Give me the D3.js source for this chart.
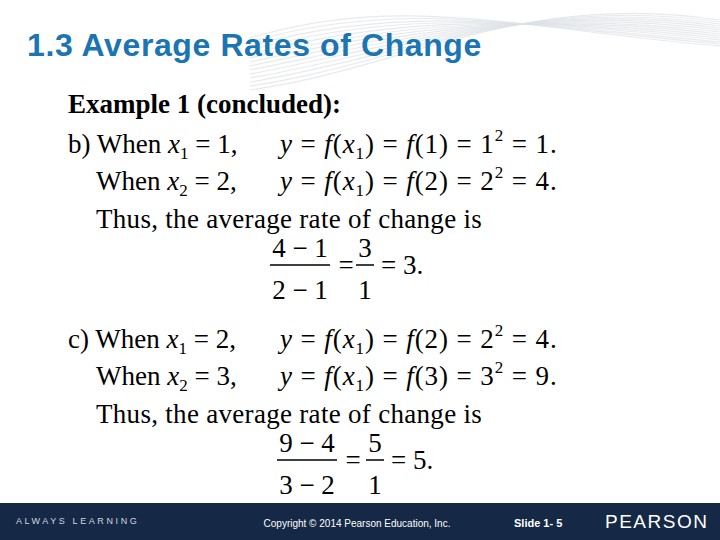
<!DOCTYPE html>
<html lang="en">
<head>
<meta charset="UTF-8">
<title>Slide</title>
<style>
  body { margin: 0; background: white; }
  svg { display: block; }
</style>
</head>
<body>
<svg id="SVG"></svg>
<script src="https://d3js.org/d3.v7.min.js"></script>
<script>
// slide content
var title = "1.3 Average Rates of Change";
var heading = "Example 1 (concluded):";
var parts = ["b)", "c)"];
var x1Values = [1, 2];
var x2Values = [2, 3];
var y1Values = [1, 4];
var y2Values = [4, 9];
var slopes = [3, 5];
var footerLeft = "ALWAYS LEARNING";
var footerCopy = "Copyright © 2014 Pearson Education, Inc.";
var footerSlide = "Slide 1- 5";
var footerBrand = "PEARSON";

var width = 720, height = 540;
var svg = d3.select("#SVG").attr("width", width).attr("height", height);

// background waves at top
var waves = svg.append("g");
for (var i = 0; i < 14; i++) {
    waves.append("path")
        .attr("d", `M 250 ${90 - i * 4} C 400 ${70 - i * 6}, 520 ${-10 + i * 3}, 720 ${20 + i * 2}`)
        .attr("fill", "none")
        .attr("stroke", "#dde1e6")
        .attr("stroke-width", 1.2)
        .attr("opacity", 0.7);
}

svg.append("text").text(title)
    .attr("x", 27).attr("y", 56)
    .attr("font-family", "Liberation Sans, Arial, sans-serif")
    .attr("font-size", 32).attr("font-weight", "bold")
    .attr("letter-spacing", 0.6).attr("fill", "#1b75b3");

var serif = "Liberation Serif, Times New Roman, serif";

svg.append("text").text(heading)
    .attr("x", 68).attr("y", 113)
    .attr("font-family", serif).attr("font-size", 27).attr("font-weight", "bold");

function textLine(x, y, pieces, size, spacing) {
    var t = svg.append("text").attr("x", x).attr("y", y)
        .attr("font-family", serif).attr("font-size", size || 27)
        .attr("letter-spacing", spacing || 0);
    pieces.forEach(function (p) {
        var s = t.append("tspan").text(p.t);
        if (p.i) s.attr("font-style", "italic");
        if (p.sub) s.attr("font-size", 17).attr("dy", 6);
        if (p.sup) s.attr("font-size", 17).attr("dy", -12);
        if (p.back) s.attr("dy", p.back);
    });
}

function equation(x, y, xv, yv) {
    textLine(x, y, [
        {t: "y", i: 1}, {t: " = "}, {t: "f", i: 1}, {t: "("}, {t: "x", i: 1},
        {t: "1", sub: 1}, {t: ")", back: -6}, {t: " = "}, {t: "f", i: 1},
        {t: "(" + xv + ") = " + Math.sqrt(yv)}, {t: "2", sup: 1},
        {t: " = " + yv + ".", back: 12}
    ], 27, 0.9);
}

function fraction(cx, y, num, den, cx2, n2, d2, result) {
    var g = svg.append("g").attr("font-family", serif).attr("font-size", 27);
    g.append("text").attr("x", cx).attr("y", y - 11).attr("text-anchor", "middle").text(num);
    g.append("text").attr("x", cx).attr("y", y + 31).attr("text-anchor", "middle").text(den);
    g.append("line").attr("x1", cx - 30).attr("x2", cx + 30).attr("y1", y - 3).attr("y2", y - 3)
        .attr("stroke", "black").attr("stroke-width", 1.5);
    g.append("text").attr("x", cx + 46).attr("y", y + 6).attr("text-anchor", "middle").text("=");
    g.append("text").attr("x", cx2).attr("y", y - 11).attr("text-anchor", "middle").text(n2);
    g.append("text").attr("x", cx2).attr("y", y + 31).attr("text-anchor", "middle").text(d2);
    g.append("line").attr("x1", cx2 - 9).attr("x2", cx2 + 9).attr("y1", y - 3).attr("y2", y - 3)
        .attr("stroke", "black").attr("stroke-width", 1.5);
    g.append("text").attr("x", cx2 + 16).attr("y", y + 6).text("= " + result + ".");
}

var partTop = [153, 348];
parts.forEach(function (p, k) {
    var y0 = partTop[k];
    textLine(68, y0, [{t: p + " When "}, {t: "x", i: 1}, {t: "1", sub: 1}, {t: " = " + x1Values[k] + ",", back: -6}]);
    equation(280, y0, x1Values[k], y1Values[k]);
    textLine(96, y0 + 37, [{t: "When "}, {t: "x", i: 1}, {t: "2", sub: 1}, {t: " = " + x2Values[k] + ",", back: -6}]);
    equation(280, y0 + 37, x2Values[k], y2Values[k]);
    textLine(96, y0 + 75, [{t: "Thus, the average rate of change is"}], 27, 0.3);
    var num = y2Values[k] + " \u2212 " + y1Values[k];
    var den = x2Values[k] + " \u2212 " + x1Values[k];
    fraction(k === 0 ? 300 : 307, y0 + 115, num, den, k === 0 ? 365 : 375,
        y2Values[k] - y1Values[k], x2Values[k] - x1Values[k], slopes[k]);
});

// footer
svg.append("rect").attr("x", 0).attr("y", 503).attr("width", width).attr("height", 37).attr("fill", "#152845");
svg.append("text").text(footerLeft).attr("x", 16).attr("y", 524)
    .attr("font-family", "Liberation Sans, Arial, sans-serif").attr("font-size", 9)
    .attr("letter-spacing", 2.6).attr("fill", "#cfd6e0");
svg.append("text").text(footerCopy).attr("x", 357).attr("y", 527).attr("text-anchor", "middle")
    .attr("font-family", "Liberation Sans, Arial, sans-serif").attr("font-size", 10).attr("fill", "white");
svg.append("text").text(footerSlide).attr("x", 514).attr("y", 527)
    .attr("font-family", "Liberation Sans, Arial, sans-serif").attr("font-size", 11)
    .attr("font-weight", "bold").attr("fill", "white");
svg.append("text").text(footerBrand).attr("x", 605).attr("y", 528)
    .attr("font-family", "Liberation Sans, Arial, sans-serif").attr("font-size", 19)
    .attr("letter-spacing", 1.5).attr("fill", "white");
</script>
</body>
</html>
